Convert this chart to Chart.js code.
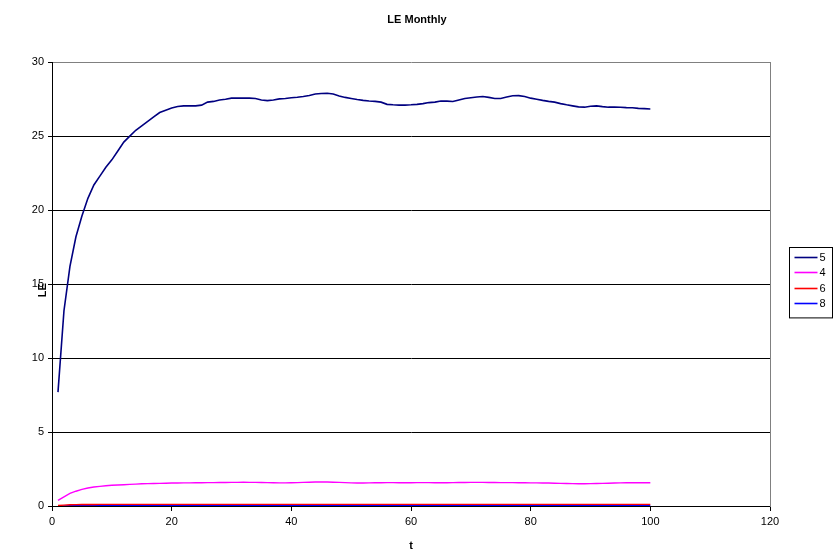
<!DOCTYPE html>
<html>
<head>
<meta charset="utf-8">
<title>LE Monthly</title>
<script src="https://cdn.jsdelivr.net/npm/chart.js@4/dist/chart.umd.min.js"></script>
<style>
  html, body { margin: 0; padding: 0; background: #fff; }
  #wrap { width: 834px; height: 553px; position: relative; }
</style>
</head>
<body>
<div id="wrap"><canvas id="c"></canvas></div>
<script>
// time steps
const t = Array.from({ length: 100 }, (_, i) => i + 1);

// series labels and colours
const seriesNames = ['5', '4', '6', '8'];
const seriesColors = ['#000080', '#FF00FF', '#FF0000', '#0000FF'];

// LE for series "5"
const le5 = [
  7.7, 13.2, 16.2, 18.2, 19.6, 20.8, 21.7, 22.3, 22.9, 23.4,
  24.0, 24.6, 25.0, 25.4, 25.7, 26.0, 26.3, 26.6, 26.75, 26.9,
  27.0, 27.05, 27.05, 27.05, 27.1, 27.3, 27.35, 27.45, 27.5, 27.57,
  27.57, 27.57, 27.57, 27.55, 27.45, 27.4, 27.45, 27.52, 27.55, 27.6,
  27.63, 27.68, 27.75, 27.85, 27.88, 27.9, 27.85, 27.72, 27.62, 27.55,
  27.48, 27.42, 27.38, 27.35, 27.3, 27.15, 27.12, 27.1, 27.1, 27.12,
  27.15, 27.2, 27.27, 27.3, 27.38, 27.37, 27.34, 27.45, 27.55, 27.6,
  27.65, 27.68, 27.62, 27.55, 27.55, 27.65, 27.73, 27.74, 27.68, 27.57,
  27.5, 27.42, 27.35, 27.3, 27.2, 27.12, 27.05, 26.98, 26.96, 27.02,
  27.05, 27.0, 26.96, 26.96, 26.95, 26.93, 26.92, 26.88, 26.86, 26.84
];

// LE for series "4"
const le4 = [
  0.38, 0.62, 0.85, 1.0, 1.12, 1.22, 1.28, 1.33, 1.37, 1.40,
  1.42, 1.44, 1.46, 1.48, 1.50, 1.51, 1.52, 1.53, 1.54, 1.55,
  1.55, 1.56, 1.56, 1.57, 1.57, 1.58, 1.58, 1.59, 1.59, 1.60,
  1.60, 1.61, 1.60, 1.60, 1.59, 1.58, 1.57, 1.56, 1.56, 1.57,
  1.58, 1.60, 1.61, 1.62, 1.62, 1.62, 1.61, 1.60, 1.58, 1.56,
  1.55, 1.55, 1.56, 1.57, 1.57, 1.58, 1.58, 1.57, 1.57, 1.57,
  1.58, 1.58, 1.58, 1.57, 1.57, 1.57, 1.58, 1.59, 1.59, 1.60,
  1.60, 1.60, 1.59, 1.59, 1.58, 1.58, 1.58, 1.57, 1.57, 1.56,
  1.56, 1.55, 1.55, 1.54, 1.53, 1.52, 1.51, 1.50, 1.50, 1.51,
  1.52, 1.53, 1.54, 1.55, 1.56, 1.57, 1.57, 1.57, 1.57, 1.57
];

// LE for series "6"
const le6 = [
  0.03, 0.06, 0.08, 0.09, 0.10, 0.10, 0.10, 0.11, 0.11, 0.11,
  0.11, 0.11, 0.11, 0.11, 0.11, 0.11, 0.11, 0.11, 0.11, 0.11,
  0.11, 0.11, 0.11, 0.11, 0.11, 0.11, 0.11, 0.11, 0.11, 0.11,
  0.11, 0.11, 0.11, 0.11, 0.11, 0.11, 0.11, 0.11, 0.11, 0.11,
  0.11, 0.11, 0.11, 0.11, 0.11, 0.11, 0.11, 0.11, 0.11, 0.11,
  0.11, 0.11, 0.11, 0.11, 0.11, 0.11, 0.11, 0.11, 0.11, 0.11,
  0.11, 0.11, 0.11, 0.11, 0.11, 0.11, 0.11, 0.11, 0.11, 0.11,
  0.11, 0.11, 0.11, 0.11, 0.11, 0.11, 0.11, 0.11, 0.11, 0.11,
  0.11, 0.11, 0.11, 0.11, 0.11, 0.11, 0.11, 0.11, 0.11, 0.11,
  0.11, 0.11, 0.11, 0.11, 0.11, 0.11, 0.11, 0.11, 0.11, 0.11
];

// LE for series "8"
const le8 = [
  0.01, 0.01, 0.02, 0.02, 0.02, 0.02, 0.02, 0.02, 0.02, 0.02,
  0.02, 0.02, 0.02, 0.02, 0.02, 0.02, 0.02, 0.02, 0.02, 0.02,
  0.02, 0.02, 0.02, 0.02, 0.02, 0.02, 0.02, 0.02, 0.02, 0.02,
  0.02, 0.02, 0.02, 0.02, 0.02, 0.02, 0.02, 0.02, 0.02, 0.02,
  0.02, 0.02, 0.02, 0.02, 0.02, 0.02, 0.02, 0.02, 0.02, 0.02,
  0.02, 0.02, 0.02, 0.02, 0.02, 0.02, 0.02, 0.02, 0.02, 0.02,
  0.02, 0.02, 0.02, 0.02, 0.02, 0.02, 0.02, 0.02, 0.02, 0.02,
  0.02, 0.02, 0.02, 0.02, 0.02, 0.02, 0.02, 0.02, 0.02, 0.02,
  0.02, 0.02, 0.02, 0.02, 0.02, 0.02, 0.02, 0.02, 0.02, 0.02,
  0.02, 0.02, 0.02, 0.02, 0.02, 0.02, 0.02, 0.02, 0.02, 0.02
];

// axis ranges
const xTicks = [0, 20, 40, 60, 80, 100, 120];
const yTicks = [0, 5, 10, 15, 20, 25, 30];

const seriesValues = [le5, le4, le6, le8];
const FONT = 'Arial, "Liberation Sans", sans-serif';

const datasets = seriesNames.map((name, i) => ({
  label: name,
  data: t.map((x, k) => ({ x: x, y: seriesValues[i][k] })),
  borderColor: seriesColors[i],
  backgroundColor: seriesColors[i],
  borderWidth: i === 0 ? 1.6 : 1.4,
  pointRadius: 0,
  tension: 0,
  fill: false
}));

// boxed legend on the right
const boxLegend = {
  id: 'boxLegend',
  afterDraw(chart) {
    const ctx = chart.ctx;
    const left = chart.chartArea.right + 19.5;
    const top = 247.5;
    const w = 43, rowH = 15.6;
    const h = rowH * chart.data.datasets.length + 8;
    ctx.save();
    ctx.strokeStyle = '#000';
    ctx.lineWidth = 1;
    ctx.strokeRect(left, top, w, h);
    ctx.font = '11px ' + FONT;
    ctx.textBaseline = 'middle';
    ctx.textAlign = 'left';
    chart.data.datasets.forEach((ds, i) => {
      const y = Math.round(top + 9 + i * rowH) + 0.5;
      ctx.strokeStyle = ds.borderColor;
      ctx.lineWidth = 1.6;
      ctx.beginPath();
      ctx.moveTo(left + 5, y);
      ctx.lineTo(left + 28, y);
      ctx.stroke();
      ctx.fillStyle = '#000';
      ctx.fillText(ds.label, left + 30, y);
    });
    ctx.restore();
  }
};

new Chart(document.getElementById('c'), {
  type: 'line',
  data: { datasets },
  plugins: [boxLegend],
  options: {
    responsive: true,
    maintainAspectRatio: false,
    animation: false,
    layout: { padding: 0 },
    plugins: {
      legend: { display: false },
      tooltip: { enabled: false },
      title: {
        display: true,
        text: 'LE Monthly',
        color: '#000',
        font: { family: FONT, size: 11, weight: 'bold' },
        padding: { top: 13, bottom: 36 }
      }
    },
    scales: {
      x: {
        type: 'linear',
        min: xTicks[0],
        max: xTicks[xTicks.length - 1],
        afterBuildTicks(scale) { scale.ticks = xTicks.map(v => ({ value: v })); },
        afterFit(scale) { scale.height = 47; },
        border: { display: true, color: '#000', width: 1 },
        grid: {
          drawOnChartArea: false,
          tickColor: '#000',
          drawTicks: true,
          tickLength: 5
        },
        ticks: {
          color: '#000',
          font: { family: FONT, size: 11 },
          padding: 4,
          maxRotation: 0
        },
        title: {
          display: true,
          text: 't',
          color: '#000',
          font: { family: FONT, size: 11, weight: 'bold' },
          padding: { top: 0, bottom: 0 }
        }
      },
      y: {
        type: 'linear',
        min: yTicks[0],
        max: yTicks[yTicks.length - 1],
        afterBuildTicks(scale) { scale.ticks = yTicks.map(v => ({ value: v })); },
        afterFit(scale) { scale.width = 52; },
        border: { display: true, color: '#000', width: 1 },
        grid: {
          color: ctx => (ctx.tick && ctx.tick.value === 30 ? '#808080' : '#000'),
          tickColor: '#000',
          drawTicks: true,
          tickLength: 4
        },
        ticks: {
          color: '#000',
          font: { family: FONT, size: 11 },
          padding: 4
        },
        title: {
          display: true,
          text: 'LE    ',
          color: '#000',
          font: { family: FONT, size: 11, weight: 'bold' },
          padding: { top: 36, bottom: 0 }
        }
      },
      // right frame edge; reserves the room that holds the legend
      yFrame: {
        type: 'linear',
        position: 'right',
        min: yTicks[0],
        max: yTicks[yTicks.length - 1],
        afterFit(scale) { scale.width = 64; },
        border: { display: true, color: '#808080', width: 1 },
        grid: { drawOnChartArea: false, drawTicks: false },
        ticks: { display: false }
      }
    }
  }
});
</script>
</body>
</html>
